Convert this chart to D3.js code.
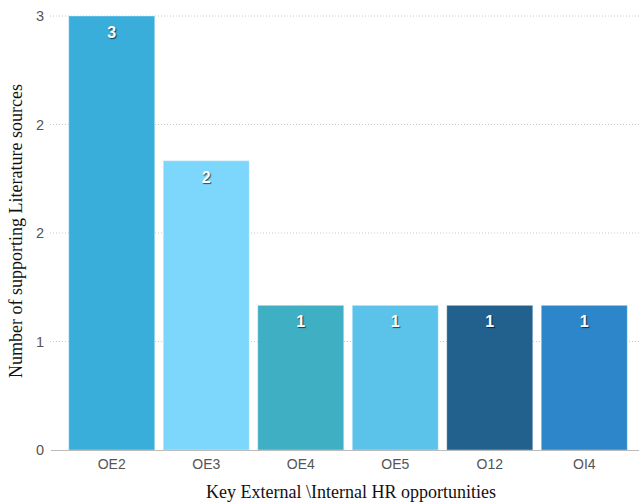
<!DOCTYPE html>
<html>
<head>
<meta charset="utf-8">
<script src="https://cdn.jsdelivr.net/npm/d3@7"></script>
<style>
  body { margin: 0; background: #fff; }
  svg { display: block; }
  .value-label { text-shadow: 1px 1px 1px rgba(0, 0, 0, 0.65); }
</style>
</head>
<body>
<div id="chart"></div>
<script>
// Bar chart: supporting literature sources per HR opportunity

const categories = ['OE2', 'OE3', 'OE4', 'OE5', 'O12', 'OI4'];
const values = [3, 2, 1, 1, 1, 1];
const barColors = ['#3aaedb', '#7dd6fc', '#3fafc4', '#5bc3ea', '#22608e', '#2c86c9'];
const tickValues = [0, 0.75, 1.5, 2.25, 3];
const tickLabels = ['0', '1', '2', '2', '3'];

const width = 639;
const height = 504;
const margin = { top: 16, right: 7, bottom: 54, left: 64 };
const innerWidth = width - margin.left - margin.right;
const innerHeight = height - margin.top - margin.bottom;

const svg = d3.select('#chart')
    .append('svg')
    .attr('width', width)
    .attr('height', height);

const g = svg.append('g')
    .attr('transform', `translate(${margin.left},${margin.top})`);

// Scales
const x = d3.scaleBand()
    .domain(categories)
    .range([0, 568])
    .paddingInner(0.09)
    .paddingOuter(0.05);

const y = d3.scaleLinear()
    .domain([0, 3])
    .range([innerHeight, 0]);

// Gridlines
g.selectAll('.grid')
    .data(tickValues.filter(d => d > 0))
    .enter()
    .append('line')
    .attr('x1', -14)
    .attr('x2', width - margin.left)
    .attr('y1', d => y(d))
    .attr('y2', d => y(d))
    .attr('stroke', '#c8c8c8')
    .attr('stroke-width', 1)
    .attr('stroke-dasharray', '1,2');

// Bars
g.selectAll('.bar')
    .data(categories)
    .enter()
    .append('rect')
    .attr('x', d => x(d))
    .attr('y', (d, i) => y(values[i]))
    .attr('width', x.bandwidth())
    .attr('height', (d, i) => innerHeight - y(values[i]))
    .attr('fill', (d, i) => barColors[i])
    .attr('stroke', 'rgba(255,255,255,0.35)')
    .attr('stroke-width', 1);

// Value labels
g.selectAll('.value-label')
    .data(categories)
    .enter()
    .append('text')
    .attr('class', 'value-label')
    .attr('x', (d, i) => x(d) + x.bandwidth() / 2)
    .attr('y', (d, i) => y(values[i]) + 22)
    .attr('text-anchor', 'middle')
    .attr('font-family', 'Liberation Sans, Arial, sans-serif')
    .attr('font-weight', 'bold')
    .attr('font-size', 16)
    .attr('fill', '#fff')
    .text((d, i) => d3.format('.0f')(values[i]));

// Axes
const xAxis = d3.axisBottom(x).tickSize(0).tickPadding(9);
const yAxis = d3.axisLeft(y)
    .tickValues(tickValues)
    .tickFormat((d, i) => tickLabels[i])
    .tickSize(0)
    .tickPadding(20);

const xg = g.append('g')
    .attr('transform', `translate(0,${innerHeight})`)
    .call(xAxis);
xg.select('.domain').remove();
xg.selectAll('text')
    .attr('font-family', 'Liberation Sans, Arial, sans-serif')
    .attr('font-size', 14)
    .attr('fill', '#555');

// Baseline
g.append('line')
    .attr('x1', -13)
    .attr('x2', width - margin.left)
    .attr('y1', innerHeight + 0.5)
    .attr('y2', innerHeight + 0.5)
    .attr('stroke', '#bbb')
    .attr('stroke-width', 1);

const yg = g.append('g').call(yAxis);
yg.select('.domain').remove();
yg.selectAll('text')
    .attr('font-family', 'Liberation Sans, Arial, sans-serif')
    .attr('font-size', 14.5)
    .attr('fill', '#555');

// Axis titles
svg.append('text')
    .attr('transform', 'rotate(-90)')
    .attr('x', -231)
    .attr('y', 22)
    .attr('text-anchor', 'middle')
    .attr('font-family', 'Liberation Serif, Times New Roman, serif')
    .attr('font-size', 18)
    .attr('fill', '#111')
    .text('Number of supporting Literature sources');

svg.append('text')
    .attr('x', 351)
    .attr('y', 498)
    .attr('text-anchor', 'middle')
    .attr('font-family', 'Liberation Serif, Times New Roman, serif')
    .attr('font-size', 18)
    .attr('fill', '#111')
    .text('Key External \\Internal HR opportunities');
</script>
</body>
</html>
